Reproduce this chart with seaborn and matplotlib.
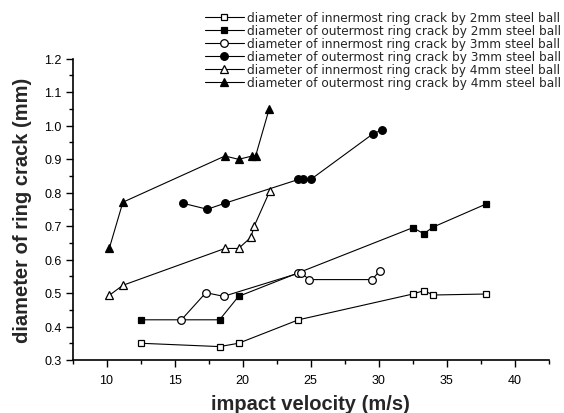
import matplotlib
matplotlib.use("Agg")
import matplotlib.pyplot as plt
import seaborn as sns
import pandas as pd
from matplotlib.ticker import MultipleLocator

# data
x_in2 = [12.5, 18.3, 19.7, 24.1, 32.5, 33.3, 34.0, 37.9]
y_in2 = [0.35, 0.34, 0.35, 0.42, 0.497, 0.507, 0.494, 0.497]
x_out2 = [12.5, 18.3, 19.7, 32.5, 33.3, 34.0, 37.9]
y_out2 = [0.42, 0.42, 0.49, 0.695, 0.677, 0.697, 0.766]
x_in3 = [15.5, 17.3, 18.6, 24.1, 24.3, 24.9, 29.5, 30.1]
y_in3 = [0.42, 0.501, 0.49, 0.559, 0.559, 0.54, 0.54, 0.567]
x_out3 = [15.6, 17.4, 18.7, 24.1, 24.4, 25.0, 29.6, 30.2]
y_out3 = [0.768, 0.75, 0.768, 0.839, 0.839, 0.839, 0.976, 0.986]
x_in4 = [10.2, 11.2, 18.7, 19.7, 20.6, 20.85, 22.0]
y_in4 = [0.493, 0.523, 0.633, 0.633, 0.666, 0.70, 0.805]
x_out4 = [10.2, 11.2, 18.7, 19.7, 20.7, 20.95, 21.95]
y_out4 = [0.633, 0.771, 0.909, 0.899, 0.909, 0.909, 1.05]

labels = [
    "diameter of innermost ring crack by 2mm steel ball",
    "diameter of outermost ring crack by 2mm steel ball",
    "diameter of innermost ring crack by 3mm steel ball",
    "diameter of outermost ring crack by 3mm steel ball",
    "diameter of innermost ring crack by 4mm steel ball",
    "diameter of outermost ring crack by 4mm steel ball",
]
xtick_labels = ["10", "15", "20", "25", "30", "35", "40"]

series = [(x_in2, y_in2), (x_out2, y_out2), (x_in3, y_in3),
          (x_out3, y_out3), (x_in4, y_in4), (x_out4, y_out4)]
markers = ["s", "s", "o", "o", "^", "^"]
filled = [False, True, False, True, False, True]
msizes = [5, 5, 5.5, 5.5, 6, 6]

sns.set_theme(style="ticks")
plt.rcParams['font.family'] = ['Liberation Sans', 'DejaVu Sans']

fig = plt.figure(figsize=(5.64, 4.14), dpi=100)
ax = fig.add_axes([72.5 / 564, 1 - 361 / 414, (549 - 72.5) / 564, (361 - 59.5) / 414])

for (xs, ys), lab, m, f, ms in zip(series, labels, markers, filled, msizes):
    df = pd.DataFrame({"x": xs, "y": ys})
    sns.lineplot(data=df, x="x", y="y", ax=ax, color="black", linewidth=0.8,
                 marker=m, markersize=ms, markeredgecolor="black",
                 markerfacecolor="black" if f else "white", markeredgewidth=0.9,
                 estimator=None, sort=False, label=lab)

ax.set_xlim(7.5, 42.5)
ax.set_ylim(0.3, 1.2)
ax.xaxis.set_minor_locator(MultipleLocator(2.5))
ax.yaxis.set_major_locator(MultipleLocator(0.1))
ax.yaxis.set_minor_locator(MultipleLocator(0.05))
ax.set_xticks([float(t) for t in xtick_labels])
ax.set_xticklabels(xtick_labels)
ax.yaxis.set_major_formatter(matplotlib.ticker.FormatStrFormatter('%.1f'))
ax.tick_params(axis="both", which="major", direction="out", length=5, width=1,
               labelsize=9, color="black", labelcolor="black")
ax.tick_params(axis="x", which="major", pad=5)
ax.tick_params(axis="y", which="major", pad=3)
ax.tick_params(axis="both", which="minor", direction="out", length=3, width=1, color="black")
for s in ["top", "right"]:
    ax.spines[s].set_visible(False)
for s in ["left", "bottom"]:
    ax.spines[s].set_linewidth(1.2)
    ax.spines[s].set_color("black")

ax.set_xlabel("impact velocity (m/s)", fontsize=14.5, fontweight="bold", labelpad=6)
ax.set_ylabel("diameter of ring crack (mm)", fontsize=14.5, fontweight="bold", labelpad=9)

leg = ax.legend(loc="upper left", bbox_to_anchor=(205 / 564, 1 - 12 / 414),
                bbox_transform=fig.transFigure, frameon=False, borderpad=0,
                borderaxespad=0, handlelength=3.2, handletextpad=0.3,
                labelspacing=0.0, prop={"family": "DejaVu Sans", "size": 8.7})

fig.savefig("out.png", dpi=100)
